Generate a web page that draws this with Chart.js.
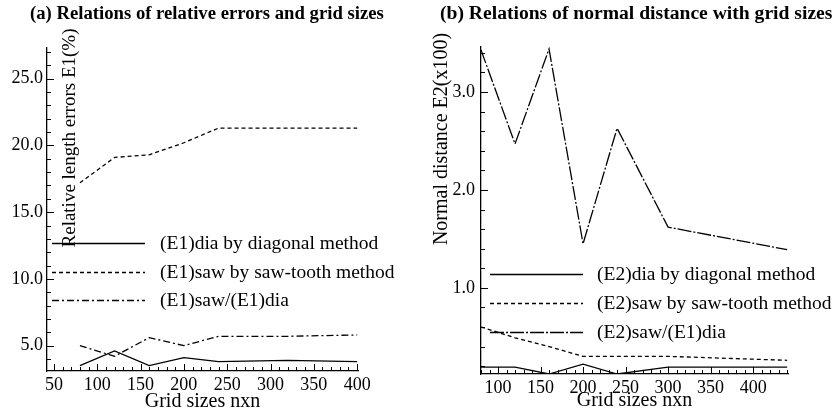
<!DOCTYPE html>
<html><head><meta charset="utf-8">
<script src="https://cdn.jsdelivr.net/npm/chart.js@4.4.1/dist/chart.umd.min.js"></script>
<style>
html,body{margin:0;padding:0;background:#fff;}
#wrap{position:relative;width:838px;height:419px;overflow:hidden;background:#fff;}
#c1{position:absolute;left:0;top:0;}
#c2{position:absolute;left:430px;top:0;}
</style></head><body>
<div id="wrap">
<canvas id="c1" width="430" height="419"></canvas>
<canvas id="c2" width="408" height="419"></canvas>
</div>
<script>
// ---- data: panel (a)
const gridA = [80, 120, 160, 200, 240, 320, 400];
const e1Dia = [3.5, 4.6, 3.5, 4.1, 3.8, 3.9, 3.8];
const e1Saw = [17.2, 19.1, 19.3, 20.2, 21.3, 21.3, 21.3];
const e1Ratio = [5.0, 4.2, 5.6, 5.0, 5.7, 5.7, 5.8];
const xTicksA = [50, 100, 150, 200, 250, 300, 350, 400];
const yTicksA = [5, 10, 15, 20, 25];
const labelsA = ['(E1)dia by diagonal method', '(E1)saw by saw-tooth method', '(E1)saw/(E1)dia'];
const legendYA = [12.72, 10.55, 8.45];

// ---- data: panel (b)
const gridB = [80, 120, 160, 200, 240, 300, 440];
const e2Dia = [0.19, 0.19, 0.12, 0.22, 0.12, 0.19, 0.19];
const e2Saw = [0.60, 0.49, 0.40, 0.30, 0.30, 0.30, 0.26];
const e2Ratio = [3.43, 2.47, 3.44, 1.45, 2.63, 1.62, 1.39];
const xTicksB = [100, 150, 200, 250, 300, 350, 400];
const yTicksB = [1, 2, 3];
const labelsB = ['(E2)dia by diagonal method', '(E2)saw by saw-tooth method', '(E2)saw/(E1)dia'];
const legendYB = [1.14, 0.85, 0.55];

const FONT = 'Liberation Serif';

const pts = (xs, ys) => xs.map((x, i) => ({x: x, y: ys[i]}));

const inwardTicks = {
  id: 'inwardTicks',
  afterDraw(chart, args, o) {
    const {ctx, chartArea: a, scales: {x, y}} = chart;
    ctx.save();
    ctx.strokeStyle = '#000';
    ctx.lineWidth = 1;
    ctx.beginPath();
    const i0 = Math.ceil(x.min / o.xMinor - 1e-9), i1 = Math.floor(x.max / o.xMinor + 1e-9);
    const kx = Math.round(o.xMajor / o.xMinor);
    for (let i = i0; i <= i1; i++) {
      const px = Math.round(x.getPixelForValue(i * o.xMinor)) + 0.5;
      const len = (i % kx === 0) ? 7 : 4;
      ctx.moveTo(px, a.bottom); ctx.lineTo(px, a.bottom - len);
    }
    const j0 = Math.ceil(y.min / o.yMinor - 1e-9), j1 = Math.floor(y.max / o.yMinor + 1e-9);
    const ky = Math.round(o.yMajor / o.yMinor);
    for (let j = j0; j <= j1; j++) {
      const py = Math.round(y.getPixelForValue(j * o.yMinor)) + 0.5;
      const len = (j % ky === 0) ? 7 : 4;
      ctx.moveTo(a.left, py); ctx.lineTo(a.left + len, py);
    }
    ctx.stroke();
    ctx.restore();
  }
};

const innerLegend = {
  id: 'innerLegend',
  afterDatasetsDraw(chart, args, o) {
    const {ctx, chartArea: a, scales: {y}} = chart;
    ctx.save();
    chart.data.datasets.forEach((ds, i) => {
      const py = Math.round(y.getPixelForValue(o.ys[i])) + 0.5;
      ctx.strokeStyle = '#000';
      ctx.lineWidth = ds.borderWidth;
      ctx.setLineDash(ds.borderDash || []);
      ctx.beginPath();
      ctx.moveTo(a.left + o.x0, py); ctx.lineTo(a.left + o.x1, py);
      ctx.stroke();
      ctx.setLineDash([]);
      ctx.fillStyle = '#000';
      ctx.font = o.size + 'px "' + FONT + '"';
      ctx.textBaseline = 'middle';
      ctx.textAlign = 'left';
      ctx.fillText(ds.label, a.left + o.tx, py);
    });
    ctx.restore();
  }
};

const textLabels = {
  id: 'textLabels',
  afterDraw(chart, args, o) {
    const ctx = chart.ctx;
    ctx.save();
    ctx.fillStyle = '#000';
    // panel title
    ctx.font = 'bold ' + o.titleSize + 'px "' + FONT + '"';
    ctx.textAlign = 'left';
    ctx.textBaseline = 'middle';
    ctx.fillText(o.title, o.titleX, o.titleY);
    // rotated y-axis title
    ctx.translate(o.ytx, o.yty);
    ctx.rotate(-Math.PI / 2);
    ctx.font = o.ytSize + 'px "' + FONT + '"';
    ctx.textAlign = 'center';
    ctx.fillText(o.yText, 0, 0);
    ctx.restore();
  }
};

function makeChart(id, p) {
  return new Chart(document.getElementById(id), {
    type: 'line',
    data: {
      datasets: [
        {label: p.labels[0], data: pts(p.grid, p.dia), borderColor: '#000', borderWidth: 1.3, borderDash: [], pointRadius: 0, tension: 0, fill: false},
        {label: p.labels[1], data: pts(p.grid, p.saw), borderColor: '#000', borderWidth: 1.3, borderDash: [4, 3], pointRadius: 0, tension: 0, fill: false},
        {label: p.labels[2], data: pts(p.grid, p.ratio), borderColor: '#000', borderWidth: 1.3, borderDash: p.ratioDash, pointRadius: 0, tension: 0, fill: false}
      ]
    },
    options: {
      responsive: false,
      animation: false,
      devicePixelRatio: 1,
      layout: {padding: {left: p.padLeft, right: p.padRight, top: p.padTop, bottom: 0}},
      plugins: {
        legend: {display: false},
        tooltip: {enabled: false},
        title: {display: false},
        inwardTicks: {xMinor: 10, xMajor: 50, yMinor: p.yMinor, yMajor: p.yMajor},
        innerLegend: {ys: p.legendY, x0: p.lx0, x1: p.lx1, tx: p.ltx, size: 19.5},
        textLabels: {title: p.title, titleSize: p.titleSize, titleX: p.titleX, titleY: 14,
                     yText: p.yText, ytx: p.ytx, yty: p.yty, ytSize: p.ytSize}
      },
      scales: {
        x: {
          type: 'linear', min: p.xmin, max: p.xmax,
          afterBuildTicks: s => { s.ticks = p.xTicks.map(v => ({value: v})); },
          afterFit: s => { s.height = p.xh; },
          ticks: {color: '#000', font: {family: FONT, size: 18}, padding: 3, maxRotation: 0, autoSkip: false,
                  callback: v => String(v)},
          grid: {display: true, drawOnChartArea: false, drawTicks: false},
          border: {display: true, color: '#000', width: 1.3},
          title: {display: true, text: 'Grid sizes nxn', color: '#000', font: {family: FONT, size: 20},
                  padding: {top: 0, bottom: p.xtPad}}
        },
        y: {
          type: 'linear', min: p.ymin, max: p.ymax,
          afterBuildTicks: s => { s.ticks = p.yTicks.map(v => ({value: v})); },
          afterFit: s => { s.width = p.yw; },
          ticks: {color: '#000', font: {family: FONT, size: 18}, padding: p.ytPad, autoSkip: false,
                  callback: v => v.toFixed(1)},
          grid: {display: true, drawOnChartArea: false, drawTicks: false},
          border: {display: true, color: '#000', width: 1.3}
        }
      }
    },
    plugins: [inwardTicks, innerLegend, textLabels]
  });
}

makeChart('c1', {
  grid: gridA, dia: e1Dia, saw: e1Saw, ratio: e1Ratio, ratioDash: [7, 3, 2, 3],
  labels: labelsA, legendY: legendYA, xTicks: xTicksA, yTicks: yTicksA,
  title: '(a) Relations of relative errors and grid sizes', titleSize: 18.7, titleX: 30,
  padLeft: 3, padRight: 72, padTop: 48, xmin: 42, xmax: 401, ymin: 3.1, ymax: 27.3,
  xh: 48, yw: 44, ytPad: 4, xtPad: 5, yMinor: 1, yMajor: 5,
  lx0: 5, lx1: 98, ltx: 113,
  yText: 'Relative length errors E1(%)', ytx: 70, yty: 138, ytSize: 19
});

makeChart('c2', {
  grid: gridB, dia: e2Dia, saw: e2Saw, ratio: e2Ratio, ratioDash: [14, 2, 2, 2],
  labels: labelsB, legendY: legendYB, xTicks: xTicksB, yTicks: yTicksB,
  title: '(b) Relations of normal distance with grid sizes', titleSize: 19.6, titleX: 10,
  padLeft: 10, padRight: 50, padTop: 47, xmin: 80, xmax: 441, ymin: 0.12, ymax: 3.46,
  xh: 45, yw: 41, ytPad: 6, xtPad: 6, yMinor: 0.2, yMajor: 1,
  lx0: 9, lx1: 102, ltx: 116,
  yText: 'Normal distance E2(x100)', ytx: 12, yty: 139, ytSize: 20
});
</script>
</body></html>
